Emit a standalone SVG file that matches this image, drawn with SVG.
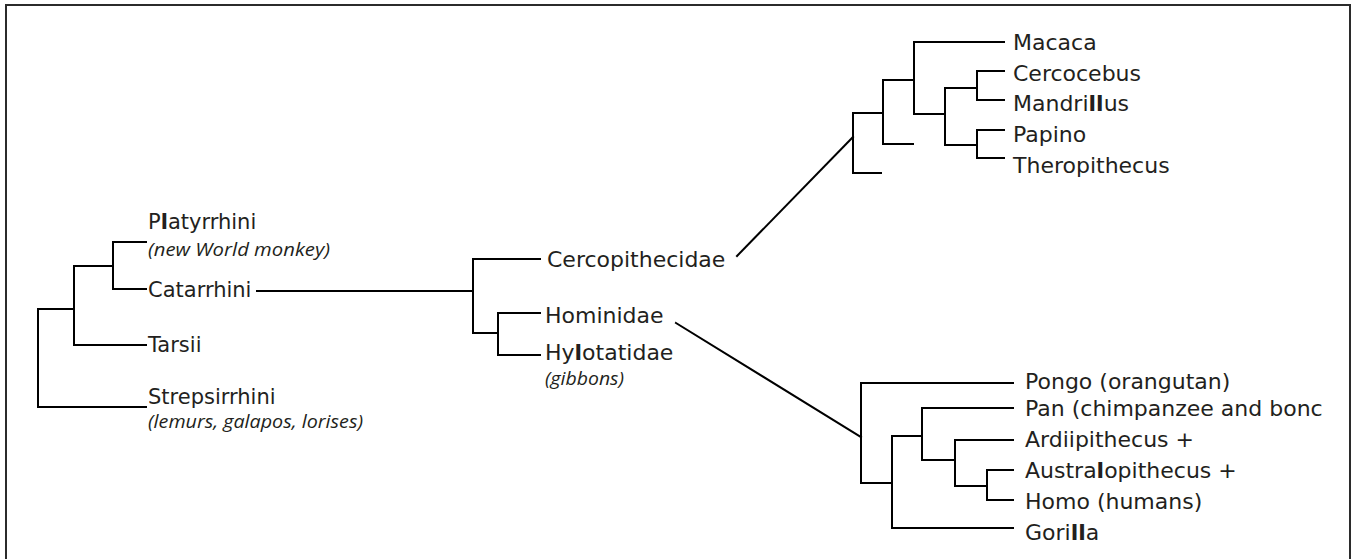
<svg xmlns="http://www.w3.org/2000/svg" width="1353" height="559" viewBox="0 0 1353 559">
<style>
.frame{fill:#fff;stroke:#2b2b2b;stroke-width:2}
.ln{fill:none;stroke:#000;stroke-width:2;stroke-linecap:square}
.lb{font-family:"DejaVu Sans",sans-serif;font-size:22px;fill:#231f20}
.sm{font-size:21px}
.it{font-family:"Open Sans","DejaVu Sans",sans-serif;font-size:18.5px;font-style:italic;fill:#231f20}
.b{font-weight:bold}
</style>
<rect class="frame" x="6" y="5" width="1344" height="570"/>
<g id="connectors" class="ln">
<path d="M146,407 H38 V309 H74 V345 H146"/>
<path d="M74,309 V266 H113 V242 H146 M113,242 V289 H146"/>
<path d="M257,291 H473 M540,259 H473 V333 H498 M540,313 H498 V355 H540"/>
<path d="M737,256 L853,137"/>
<path d="M881,173 H853 V113 H883 V144 H913 M883,113 V80 H914 V42 H1004 M914,80 V114 H945 V88 H977 V71 H1004 M977,88 V100 H1004 M945,114 V145 H977 V130 H1004 M977,145 V158 H1004"/>
<path d="M676,323 L861,437"/>
<path d="M1013,383 H861 V483 H892 V528 H1013 M892,483 V436 H922 V408 H1013 M922,436 V460 H955 V440 H1013 M955,460 V486 H987 V470 H1013 M987,486 V500 H1013"/>
</g>
<g id="n-platyrrhini"><text class="lb sm" x="148" y="229">P<tspan class="b">l</tspan>atyrrhini</text><text class="it" x="148" y="256" textLength="182" lengthAdjust="spacingAndGlyphs">(new World monkey)</text></g>
<g id="n-catarrhini"><text class="lb sm" x="148" y="297">Catarrhini</text></g>
<g id="n-tarsii"><text class="lb sm" x="148" y="352">Tarsii</text></g>
<g id="n-strepsirrhini"><text class="lb sm" x="148" y="404">Strepsirrhini</text><text class="it" x="148" y="428" textLength="215" lengthAdjust="spacingAndGlyphs">(lemurs, galapos, lorises)</text></g>
<g id="n-cercopithecidae"><text class="lb" x="547" y="267">Cercopithecidae</text></g>
<g id="n-hominidae"><text class="lb" x="545" y="323">Hominidae</text></g>
<g id="n-hylotatidae"><text class="lb" x="545" y="360">Hy<tspan class="b">l</tspan>otatidae</text><text class="it" x="545" y="385" textLength="79" lengthAdjust="spacingAndGlyphs">(gibbons)</text></g>
<g id="n-macaca"><text class="lb" x="1013" y="50">Macaca</text></g>
<g id="n-cercocebus"><text class="lb" x="1013" y="81">Cercocebus</text></g>
<g id="n-mandrillus"><text class="lb" x="1013" y="111">Mandri<tspan class="b">ll</tspan>us</text></g>
<g id="n-papino"><text class="lb" x="1013" y="142">Papino</text></g>
<g id="n-theropithecus"><text class="lb" x="1013" y="173">Theropithecus</text></g>
<g id="n-pongo"><text class="lb" x="1025" y="389">Pongo (orangutan)</text></g>
<g id="n-pan"><text class="lb" x="1025" y="416">Pan (chimpanzee and bonc</text></g>
<g id="n-ardipithecus"><text class="lb" x="1025" y="447">Ardiipithecus +</text></g>
<g id="n-australopithecus"><text class="lb" x="1025" y="478">Austra<tspan class="b">l</tspan>opithecus +</text></g>
<g id="n-homo"><text class="lb" x="1025" y="509">Homo (humans)</text></g>
<g id="n-gorilla"><text class="lb" x="1025" y="540">Gori<tspan class="b">ll</tspan>a</text></g>
</svg>
